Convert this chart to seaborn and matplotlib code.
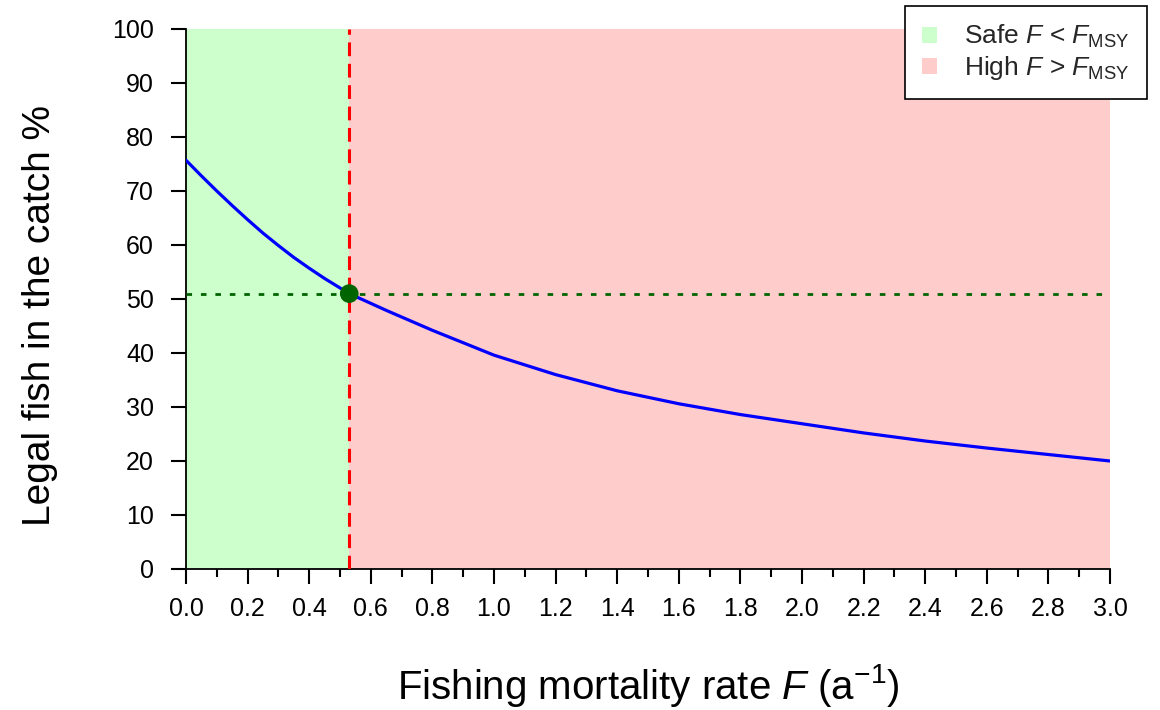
import numpy as np
import pandas as pd
import matplotlib
matplotlib.use("Agg")
import matplotlib.pyplot as plt
from matplotlib.patches import Patch
from matplotlib.ticker import MultipleLocator
import seaborn as sns

# Data
F_values = [0.0, 0.05, 0.1, 0.15, 0.2, 0.25, 0.3, 0.35, 0.4, 0.45, 0.53, 0.65,
            0.8, 1.0, 1.2, 1.4, 1.6, 1.8, 2.0, 2.2, 2.4, 2.6, 2.8, 3.0]
legal_pct = [75.7, 72.8, 70.0, 67.3, 64.7, 62.2, 59.9, 57.7, 55.7, 53.8, 51.0,
             47.9, 44.2, 39.6, 36.0, 33.0, 30.6, 28.6, 26.9, 25.2, 23.7, 22.4,
             21.2, 20.0]
F_msy = 0.53
legal_at_Fmsy = 51.0
x_ticks = [0.0, 0.2, 0.4, 0.6, 0.8, 1.0, 1.2, 1.4, 1.6, 1.8, 2.0, 2.2, 2.4,
           2.6, 2.8, 3.0]
y_ticks = [0, 10, 20, 30, 40, 50, 60, 70, 80, 90, 100]
legend_labels = [r"Safe $F$ < $F_{\mathrm{MSY}}$", r"High $F$ > $F_{\mathrm{MSY}}$"]

sns.set_theme(style="ticks")
plt.rcParams["font.family"] = ["Liberation Sans", "DejaVu Sans"]
plt.rcParams["mathtext.fontset"] = "custom"
plt.rcParams["mathtext.rm"] = "Liberation Sans"
plt.rcParams["mathtext.it"] = "Liberation Sans:italic"
plt.rcParams["mathtext.bf"] = "Liberation Sans:bold"

fig = plt.figure(figsize=(11.6, 7.1), dpi=100)
ax = fig.add_axes([186 / 1160, 1 - 569 / 710, (1110 - 186) / 1160, (569 - 29) / 710])

green = "#CCFFCC"
pink = "#FFCCCC"
ax.axvspan(0, F_msy, color=green, lw=0, zorder=0)
ax.axvspan(F_msy, 3.0, color=pink, lw=0, zorder=0)

df = pd.DataFrame({"F": F_values, "legal": legal_pct})
sns.lineplot(data=df, x="F", y="legal", ax=ax, color="#0000FF", lw=2.3, zorder=3)

ax.axhline(legal_at_Fmsy, color="#006400", lw=2.0, ls=(0, (2.0, 3.2)), zorder=4)
ax.axvline(F_msy, color="#FF0000", lw=2.2, ls=(0, (4.5, 2.5)), zorder=4)
sns.scatterplot(x=[F_msy], y=[legal_at_Fmsy], ax=ax, color="#006400", s=180,
                edgecolor="none", zorder=5)

ax.set_xlim(0, 3.0)
ax.set_ylim(0, 100)
ax.set_xticks(x_ticks)
ax.set_xticklabels([f"{v:.1f}" for v in x_ticks])
ax.set_yticks(y_ticks)
ax.xaxis.set_minor_locator(MultipleLocator(0.1))
ax.tick_params(axis="both", which="major", direction="out", length=11, width=1.5,
               labelsize=18, color="black", labelcolor="black")
ax.tick_params(axis="x", which="major", pad=9)
ax.tick_params(axis="y", which="major", pad=12)
ax.tick_params(axis="x", which="minor", direction="out", length=5.5, width=1.5,
               color="black")
for s in ["top", "right"]:
    ax.spines[s].set_visible(False)
for s in ["left", "bottom"]:
    ax.spines[s].set_color("black")
    ax.spines[s].set_linewidth(1.3)

ax.set_xlabel(r"Fishing mortality rate $F$ (a$^{-1}$)", fontsize=29, labelpad=30,
              color="black")
ax.set_ylabel("Legal fish in the catch %", fontsize=28, color="black",
              va="center")
ax.yaxis.set_label_coords((40 - 186) / 924, (569 - 315) / 540)

handles = [Patch(facecolor=green, edgecolor="none"),
           Patch(facecolor=pink, edgecolor="none")]
leg = fig.legend(handles, legend_labels, loc="upper right",
                 bbox_to_anchor=(1147 / 1160, 1 - 6 / 710), fontsize=19,
                 frameon=True, fancybox=False, edgecolor="black",
                 handlelength=0.55, handleheight=0.55, handletextpad=1.05,
                 borderpad=0.65, labelspacing=0.15, borderaxespad=0,
                 framealpha=1)
leg.get_frame().set_linewidth(1.2)

fig.savefig("out.png", dpi=100)
